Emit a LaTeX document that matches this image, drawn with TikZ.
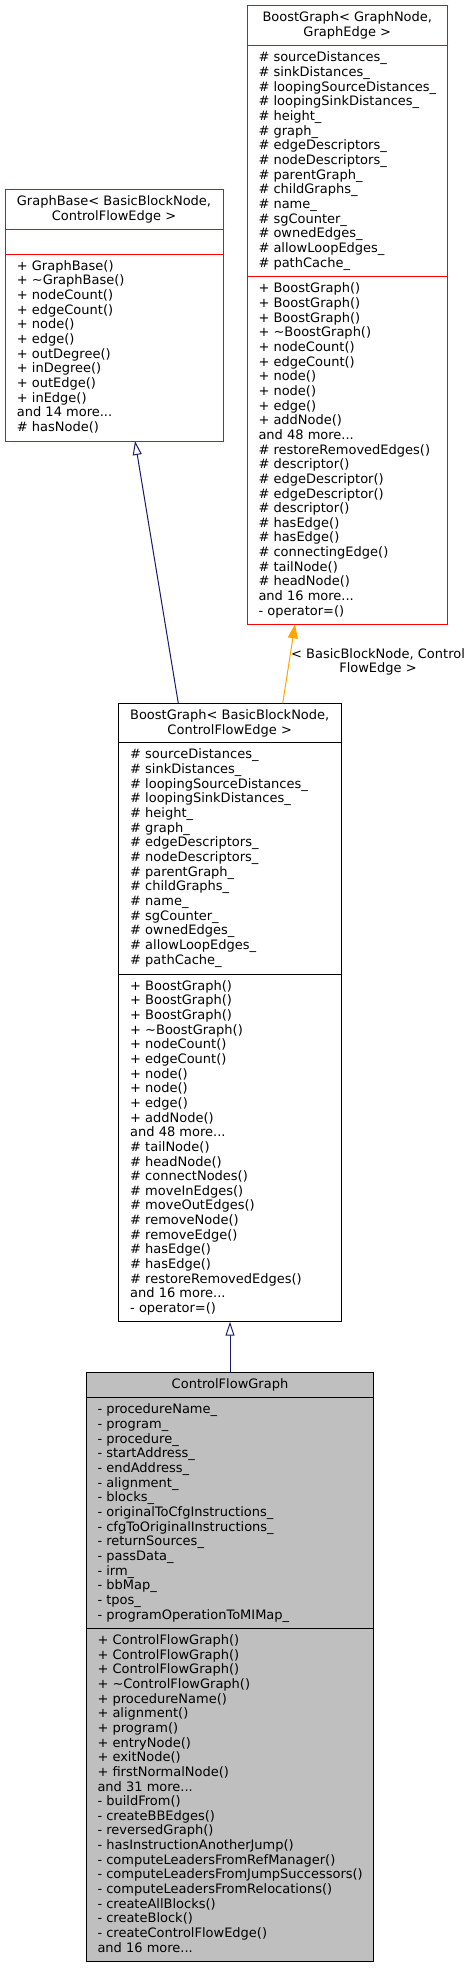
\documentclass[tikz,border=0pt]{standalone}
\usepackage{fontspec}
\setmainfont{DejaVu Sans}
\usetikzlibrary{arrows.meta}
\definecolor{dxred}{HTML}{FF0000}
\definecolor{dxblue}{HTML}{191970}
\definecolor{dxorange}{HTML}{FFA500}
\definecolor{dxgrey}{HTML}{BFBFBF}
\newcommand\mydots{...}
\tikzset{
  classbox/.style={draw, line width=1pt, inner sep=0pt, outer sep=0pt, anchor=north west},
  txt/.style={anchor=base west, inner sep=0pt, font=\fontsize{13}{14.65}\selectfont},
  ttl/.style={anchor=base, inner sep=0pt, font=\fontsize{13}{14.65}\selectfont},
  inherit/.style={draw=dxblue, line width=1pt, -{Triangle[open, length=14pt, width=9pt, fill=white]}},
  tmpl/.style={draw=dxorange, line width=1pt, -{Triangle[length=14pt, width=10pt, fill=dxorange]}},
}
\newcommand\classlines[4]{%
  \foreach \t [count=\i from 0] in {#4} {\node[txt] (#3-\i) at ({#1},{#2+\i*14.65}) {\t};}}
\begin{document}
\begin{tikzpicture}[x=1pt,y=-1pt]
\useasboundingbox (0,0) rectangle (474,1968);
\fill[white] (0,0) rectangle (474,1968);

% ---------- GraphBase ----------
\node[classbox, draw=dxred, minimum width=218pt, minimum height=251.7pt] (gb) at (5,189.3) {};
\draw[dxred, line width=1pt] (5,229) -- (223,229);
\draw[dxred, line width=1pt] (5,254) -- (223,254);
\node[ttl] (gbt1) at (114,205.5) {GraphBase< BasicBlockNode,};
\node[ttl] (gbt2) at (114,220.2) {ControlFlowEdge >};
\classlines{16.7}{270.2}{gbm}{+ GraphBase(), + \textasciitilde GraphBase(), + nodeCount(), + edgeCount(), + node(), + edge(), + outDegree(), + inDegree(), + outEdge(), + inEdge(), and 14 more\mydots, \# hasNode()}

% ---------- BoostGraph< GraphNode, GraphEdge > ----------
\node[classbox, draw=dxred, minimum width=200pt, minimum height=618.6pt] (bgn) at (247.3,5.7) {};
\draw[dxred, line width=1pt] (247.3,45.7) -- (447.3,45.7);
\draw[dxred, line width=1pt] (247.3,276.7) -- (447.3,276.7);
\node[ttl] (bgnt1) at (347.3,21.9) {BoostGraph< GraphNode,};
\node[ttl] (bgnt2) at (347.3,36.6) {GraphEdge >};
\classlines{258.3}{61.9}{bgna}{\# sourceDistances\_, \# sinkDistances\_, \# loopingSourceDistances\_, \# loopingSinkDistances\_, \# height\_, \# graph\_, \# edgeDescriptors\_, \# nodeDescriptors\_, \# parentGraph\_, \# childGraphs\_, \# name\_, \# sgCounter\_, \# ownedEdges\_, \# allowLoopEdges\_, \# pathCache\_}
\classlines{258.3}{292.9}{bgnm}{+ BoostGraph(), + BoostGraph(), + BoostGraph(), + \textasciitilde BoostGraph(), + nodeCount(), + edgeCount(), + node(), + node(), + edge(), + addNode(), and 48 more\mydots, \# restoreRemovedEdges(), \# descriptor(), \# edgeDescriptor(), \# edgeDescriptor(), \# descriptor(), \# hasEdge(), \# hasEdge(), \# connectingEdge(), \# tailNode(), \# headNode(), and 16 more\mydots, - operator=()}

% ---------- BoostGraph< BasicBlockNode, ControlFlowEdge > ----------
\node[classbox, draw=black, minimum width=222.7pt, minimum height=618.4pt] (bbb) at (118.3,703.3) {};
\draw[black, line width=1pt] (118.3,742.7) -- (341,742.7);
\draw[black, line width=1pt] (118.3,974) -- (341,974);
\node[ttl] (bbbt1) at (229.7,719.5) {BoostGraph< BasicBlockNode,};
\node[ttl] (bbbt2) at (229.7,734.2) {ControlFlowEdge >};
\classlines{130}{758.9}{bbba}{\# sourceDistances\_, \# sinkDistances\_, \# loopingSourceDistances\_, \# loopingSinkDistances\_, \# height\_, \# graph\_, \# edgeDescriptors\_, \# nodeDescriptors\_, \# parentGraph\_, \# childGraphs\_, \# name\_, \# sgCounter\_, \# ownedEdges\_, \# allowLoopEdges\_, \# pathCache\_}
\classlines{130}{990.2}{bbbm}{+ BoostGraph(), + BoostGraph(), + BoostGraph(), + \textasciitilde BoostGraph(), + nodeCount(), + edgeCount(), + node(), + node(), + edge(), + addNode(), and 48 more\mydots, \# tailNode(), \# headNode(), \# connectNodes(), \# moveInEdges(), \# moveOutEdges(), \# removeNode(), \# removeEdge(), \# hasEdge(), \# hasEdge(), \# restoreRemovedEdges(), and 16 more\mydots, - operator=()}

% ---------- ControlFlowGraph ----------
\node[classbox, draw=black, fill=dxgrey, minimum width=286.6pt, minimum height=589pt] (cfg) at (86.7,1372.7) {};
\draw[black, line width=1pt] (86.7,1397.7) -- (373.3,1397.7);
\draw[black, line width=1pt] (86.7,1628.3) -- (373.3,1628.3);
\node[ttl] (cfgt) at (230,1388.9) {ControlFlowGraph};
\classlines{97.3}{1413.9}{cfga}{- procedureName\_, - program\_, - procedure\_, - startAddress\_, - endAddress\_, - alignment\_, - blocks\_, - originalToCfgInstructions\_, - cfgToOriginalInstructions\_, - returnSources\_, - passData\_, - irm\_, - bbMap\_, - tpos\_, - programOperationToMIMap\_}
\classlines{97.3}{1644.5}{cfgm}{+ ControlFlowGraph(), + ControlFlowGraph(), + ControlFlowGraph(), + \textasciitilde ControlFlowGraph(), + procedureName(), + alignment(), + program(), + entryNode(), + exitNode(), + firstNormalNode(), and 31 more\mydots, - buildFrom(), - createBBEdges(), - reversedGraph(), - hasInstructionAnotherJump(), - computeLeadersFromRefManager(), - computeLeadersFromJumpSuccessors(), - computeLeadersFromRelocations(), - createAllBlocks(), - createBlock(), - createControlFlowEdge(), and 16 more\mydots}

% ---------- connectors ----------
\draw[inherit] ([xshift=60pt]bbb.north west) -- ([xshift=130pt]gb.south west);
\draw[tmpl] ([xshift=164.4pt]bbb.north west) -- ([xshift=47.7pt]bgn.south west);
\node[align=center, inner sep=0pt, font=\fontsize{13}{14.65}\selectfont] (tlabel) at (378,662) {< BasicBlockNode, Control\\FlowEdge >};
\draw[inherit] (cfg.north) -- (bbb.south -| cfg.north);
\end{tikzpicture}
\end{document}
